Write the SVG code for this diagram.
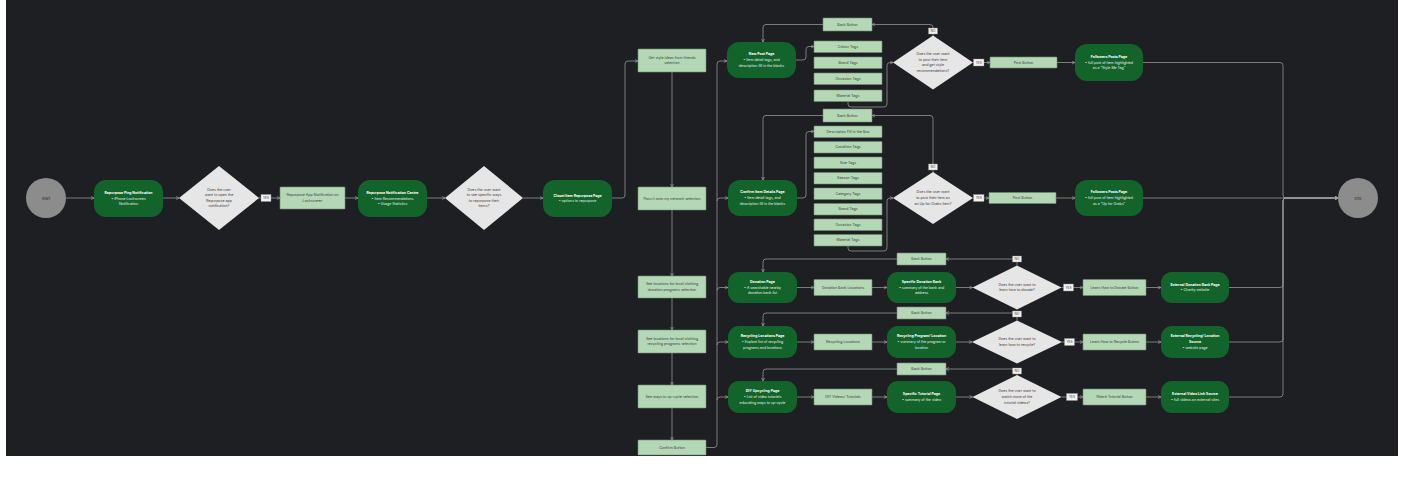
<svg xmlns="http://www.w3.org/2000/svg" width="1406" height="484" viewBox="0 0 1406 484">
<defs>
<style>
text{font-family:Inter,"Liberation Sans",sans-serif;text-anchor:middle;dominant-baseline:central}
.g rect{fill:#13642a}
.g text{fill:#eef5ee;font-size:3.5px}
.g text.t{font-weight:bold;fill:#fff}
.l rect{fill:#b4d8b6;stroke:#6f8f72;stroke-width:0.6}
.l text{fill:#34403a;font-size:3.6px}
.d polygon{fill:#e6e6e6}
.d text{fill:#3a3a3a;font-size:3.6px}
.c circle{fill:#8c8c8c}
.c text{fill:#2a2a2a;font-size:3.8px}
.lab rect{fill:#f2f2f2;stroke:#8a8a8a;stroke-width:0.4}
.lab text{fill:#333;font-size:3.2px}
.conn path{fill:none;stroke:#a3a3a3;stroke-width:0.7;marker-end:url(#a)}
</style>
<marker id="a" viewBox="0 0 6 6" refX="5.5" refY="3" markerWidth="4" markerHeight="4" orient="auto" markerUnits="userSpaceOnUse"><path d="M1,0.8 L5.5,3 L1,5.2" fill="none" stroke="#a3a3a3" stroke-width="1"/></marker>
</defs>
<rect width="1406" height="484" fill="#ffffff"/>
<rect x="6" y="0" width="1392" height="456" fill="#1e1f22"/>

<g class="conn">
<path d="M66,198 H94"/>
<path d="M163,198 H179"/>
<path d="M258,198 H280"/>
<path d="M345,198 H358"/>
<path d="M427,198 H445"/>
<path d="M523,198 H543"/>
<path d="M612,198 H622 Q625,198 625,195 V64 Q625,61 628,61 H638"/>
<path d="M672,72 V187"/>
<path d="M672,210 V276"/>
<path d="M672,298 V330"/>
<path d="M672,353 V385"/>
<path d="M672,408 V440"/>
<path d="M706,447.5 H714 Q717,447.5 717,444.5 V64 Q717,61 720,61 H727"/>
<path d="M717,201 Q717,198 720,198 H728"/>
<path d="M717,290.5 Q717,287.5 720,287.5 H728"/>
<path d="M717,345 Q717,342 720,342 H728"/>
<path d="M717,400 Q717,397 720,397 H728"/>
<path d="M796,60 H803 Q806,60 806,57 V49.5 Q806,46.5 809,46.5 H814"/>
<path d="M848,101.5 V104 Q848,107 851,107 H884 Q887,107 887,104 V65.5 Q887,62.5 890,62.5 H893"/>
<path d="M933,35.5 V27.5 Q933,24.5 930,24.5 H872"/>
<path d="M823,24.5 H766 Q763,24.5 763,27.5 V42"/>
<path d="M973,62.5 H990"/>
<path d="M1057,62.5 H1075"/>
<path d="M1143,62.5 H1280 Q1283,62.5 1283,65.5 V195 Q1283,198 1286,198 H1338"/>
<path d="M797,198 H803 Q806,198 806,195 V134.5 Q806,131.5 809,131.5 H814"/>
<path d="M848,246 V248 Q848,251 851,251 H884 Q887,251 887,248 V201 Q887,198 890,198 H893"/>
<path d="M933,172 V118.5 Q933,115.5 930,115.5 H872"/>
<path d="M823,115.5 H766 Q763,115.5 763,118.5 V180"/>
<path d="M973,198 H989"/>
<path d="M1056,198 H1075"/>
<path d="M1143,198 H1338"/>
<path d="M797,287.5 H814"/>
<path d="M872,287.5 H887"/>
<path d="M956,287.5 H972.5"/>
<path d="M1017,265.5 V259 H946"/>
<path d="M897,259 H766 Q763,259 763,262 V272"/>
<path d="M1061.5,287.5 H1083"/>
<path d="M1146,287.5 H1161"/>
<path d="M1229,287.5 H1280 Q1283,287.5 1283,284.5 V201 Q1283,198 1286,198 H1338"/>
<path d="M797,342 H814"/>
<path d="M872,342 H887"/>
<path d="M956,342 H972"/>
<path d="M1017,320.5 V313 H946"/>
<path d="M897,313 H766 Q763,313 763,316 V326"/>
<path d="M1062,342 H1083"/>
<path d="M1146,342 H1161"/>
<path d="M1229,342 H1280 Q1283,342 1283,339 V201 Q1283,198 1286,198 H1338"/>
<path d="M797,397 H814"/>
<path d="M872,397 H887"/>
<path d="M956,397 H972.5"/>
<path d="M1017,375 V369 H946"/>
<path d="M897,369 H766 Q763,369 763,372 V381"/>
<path d="M1061.5,397 H1083"/>
<path d="M1146,397 H1161"/>
<path d="M1229,397 H1280 Q1283,397 1283,394 V201 Q1283,198 1286,198 H1338"/>
</g>

<g id="start" class="c"><circle cx="46" cy="198" r="20"/><text x="46" y="198">Start</text></g>
<g id="end" class="c"><circle cx="1358" cy="198" r="20"/><text x="1358" y="198">End</text></g>

<g id="ping" class="g"><rect x="94" y="180" width="69" height="37" rx="12"/><text class="t" x="128.5" y="192.9">Repurpose Ping Notification</text><text x="128.5" y="198.5">• iPhone Lockscreen</text><text x="128.5" y="204.1">Notification</text></g>
<g id="d1" class="d"><polygon points="219,166 259,198 219,230 179,198"/><text x="219" y="189.6">Does the user</text><text x="219" y="195.2">want to open the</text><text x="219" y="200.8">Repurpose app</text><text x="219" y="206.4">notification?</text></g>
<g id="lock" class="l"><rect x="280" y="187" width="65" height="22" rx="0.5"/><text x="312.5" y="195.2">Repurpose App Notification on</text><text x="312.5" y="200.8">Lockscreen</text></g>
<g id="centre" class="g"><rect x="358" y="180" width="69" height="37" rx="12"/><text class="t" x="392.5" y="192.9">Repurpose Notification Centre</text><text x="392.5" y="198.5">• Item Recommendations</text><text x="392.5" y="204.1">• Usage Statistics</text></g>
<g id="d2" class="d"><polygon points="484,166 523,198 484,230 445,198"/><text x="484" y="189.6">Does the user want</text><text x="484" y="195.2">to see specific ways</text><text x="484" y="200.8">to repurpose their</text><text x="484" y="206.4">items?</text></g>
<g id="closet" class="g"><rect x="543" y="180" width="69" height="37" rx="12"/><text class="t" x="577.5" y="195.7">Closet Item Repurpose Page</text><text x="577.5" y="201.3">• options to repurpose</text></g>

<g id="getstyle" class="l"><rect x="638" y="49" width="68" height="23" rx="0.5"/><text x="672" y="57.7">Get style ideas from friends</text><text x="672" y="63.3">selection</text></g>
<g id="pass" class="l"><rect x="638" y="187" width="68" height="23" rx="0.5"/><text x="672" y="198.5">Pass it onto my network selection</text></g>
<g id="seedon" class="l"><rect x="638" y="276" width="68" height="22" rx="0.5"/><text x="672" y="284.2">See locations for local clothing</text><text x="672" y="289.8">donation programs selection</text></g>
<g id="seerec" class="l"><rect x="638" y="330" width="68" height="23" rx="0.5"/><text x="672" y="338.7">See locations for local clothing</text><text x="672" y="344.3">recycling programs selection</text></g>
<g id="seeup" class="l"><rect x="638" y="385" width="68" height="23" rx="0.5"/><text x="672" y="396.5">See ways to up-cycle selection</text></g>
<g id="confirm" class="l"><rect x="638" y="440" width="68" height="15" rx="0.5"/><text x="672" y="447.5">Confirm Button</text></g>

<g id="newpost" class="g"><rect x="727" y="42" width="69" height="36" rx="12"/><text class="t" x="761.5" y="54.4">New Post Page</text><text x="761.5" y="60">• Item detail tags, and</text><text x="761.5" y="65.6">description fill in the blanks</text></g>
<g id="confirmitem" class="g"><rect x="728" y="180" width="69" height="36" rx="12"/><text class="t" x="762.5" y="192.4">Confirm Item Details Page</text><text x="762.5" y="198">• Item detail tags, and</text><text x="762.5" y="203.6">description fill in the blanks</text></g>
<g id="donation" class="g"><rect x="728" y="272" width="69" height="31" rx="11"/><text class="t" x="762.5" y="281.9">Donation Page</text><text x="762.5" y="287.5">• A searchable nearby</text><text x="762.5" y="293.1">donation bank list</text></g>
<g id="recyc" class="g"><rect x="728" y="326" width="69" height="32" rx="11"/><text class="t" x="762.5" y="336.4">Recycling Locations Page</text><text x="762.5" y="342">• Explore list of recycling</text><text x="762.5" y="347.6">programs and locations</text></g>
<g id="diy" class="g"><rect x="728" y="381" width="69" height="32" rx="11"/><text class="t" x="762.5" y="391.4">DIY Upcycling Page</text><text x="762.5" y="397">• List of video tutorials</text><text x="762.5" y="402.6">educating ways to up-cycle</text></g>

<g id="back1" class="l"><rect x="823" y="18" width="49" height="13" rx="0.5"/><text x="847.5" y="24.5">Back Button</text></g>
<g id="colour" class="l"><rect x="814" y="41" width="68" height="11.5" rx="0.5"/><text x="848" y="46.75">Colour Tags</text></g>
<g id="brand1" class="l"><rect x="814" y="57" width="68" height="11.5" rx="0.5"/><text x="848" y="62.75">Brand Tags</text></g>
<g id="occ1" class="l"><rect x="814" y="73" width="68" height="11.5" rx="0.5"/><text x="848" y="78.75">Occasion Tags</text></g>
<g id="mat1" class="l"><rect x="814" y="90" width="68" height="11.5" rx="0.5"/><text x="848" y="95.75">Material Tags</text></g>

<g id="back2" class="l"><rect x="823" y="109" width="49" height="13" rx="0.5"/><text x="847.5" y="115.5">Back Button</text></g>
<g id="desc" class="l"><rect x="814" y="126" width="68" height="11.5" rx="0.5"/><text x="848" y="131.75">Description Fill in the Box</text></g>
<g id="cond" class="l"><rect x="814" y="141.5" width="68" height="11.5" rx="0.5"/><text x="848" y="147.25">Condition Tags</text></g>
<g id="size" class="l"><rect x="814" y="157" width="68" height="11.5" rx="0.5"/><text x="848" y="162.75">Size Tags</text></g>
<g id="season" class="l"><rect x="814" y="172.5" width="68" height="11.5" rx="0.5"/><text x="848" y="178.25">Season Tags</text></g>
<g id="cat" class="l"><rect x="814" y="188" width="68" height="11.5" rx="0.5"/><text x="848" y="193.75">Category Tags</text></g>
<g id="brand2" class="l"><rect x="814" y="203.5" width="68" height="11.5" rx="0.5"/><text x="848" y="209.25">Brand Tags</text></g>
<g id="occ2" class="l"><rect x="814" y="219" width="68" height="11.5" rx="0.5"/><text x="848" y="224.75">Occasion Tags</text></g>
<g id="mat2" class="l"><rect x="814" y="234.5" width="68" height="11.5" rx="0.5"/><text x="848" y="240.25">Material Tags</text></g>

<g id="d3" class="d"><polygon points="933,35.5 973,62.5 933,89.5 893,62.5"/><text x="933" y="54.1">Does the user want</text><text x="933" y="59.7">to post their item</text><text x="933" y="65.3">and get style</text><text x="933" y="70.9">recommendations?</text></g>
<g id="d4" class="d"><polygon points="933,172 973,198 933,224 893,198"/><text x="933" y="192.4">Does the user want</text><text x="933" y="198">to post their item as</text><text x="933" y="203.6">an Up for Grabs item?</text></g>
<g id="post1" class="l"><rect x="990" y="57" width="67" height="11" rx="0.5"/><text x="1023.5" y="62.5">Post Button</text></g>
<g id="post2" class="l"><rect x="989" y="192.5" width="67" height="11" rx="0.5"/><text x="1022.5" y="198">Post Button</text></g>
<g id="fol1" class="g"><rect x="1075" y="44" width="68" height="37" rx="12"/><text class="t" x="1109" y="56.9">Followers Posts Page</text><text x="1109" y="62.5">• full post of item highlighted</text><text x="1109" y="68.1">as a "Style Me Tag"</text></g>
<g id="fol2" class="g"><rect x="1075" y="180" width="68" height="36" rx="12"/><text class="t" x="1109" y="192.4">Followers Posts Page</text><text x="1109" y="198">• full post of item highlighted</text><text x="1109" y="203.6">as a "Up for Grabs"</text></g>

<g id="donbank" class="l"><rect x="814" y="279.5" width="58" height="16" rx="0.5"/><text x="843" y="287.5">Donation Bank Locations</text></g>
<g id="specdon" class="g"><rect x="887" y="272" width="69" height="31" rx="11"/><text class="t" x="921.5" y="281.9">Specific Donation Bank</text><text x="921.5" y="287.5">• summary of the bank and</text><text x="921.5" y="293.1">address</text></g>
<g id="back3" class="l"><rect x="897" y="253" width="49" height="12" rx="0.5"/><text x="921.5" y="259">Back Button</text></g>
<g id="d5" class="d"><polygon points="1017,265.5 1061.5,287.5 1017,309.5 972.5,287.5"/><text x="1017" y="284.7">Does the user want to</text><text x="1017" y="290.3">learn how to donate?</text></g>
<g id="learnd" class="l"><rect x="1083" y="279.5" width="63" height="16" rx="0.5"/><text x="1114.5" y="287.5">Learn How to Donate Button</text></g>
<g id="extdon" class="g"><rect x="1161" y="272" width="68" height="31" rx="11"/><text class="t" x="1195" y="284.7">External Donation Bank Page</text><text x="1195" y="290.3">• Charity website</text></g>

<g id="recloc" class="l"><rect x="814" y="334" width="58" height="16" rx="0.5"/><text x="843" y="342">Recycling Locations</text></g>
<g id="specrec" class="g"><rect x="887" y="326" width="69" height="32" rx="11"/><text class="t" x="921.5" y="336.4">Recycling Program/ Location</text><text x="921.5" y="342">• summary of the program or</text><text x="921.5" y="347.6">location</text></g>
<g id="back4" class="l"><rect x="897" y="307" width="49" height="12" rx="0.5"/><text x="921.5" y="313">Back Button</text></g>
<g id="d6" class="d"><polygon points="1017,320.5 1062,342 1017,363.5 972,342"/><text x="1017" y="339.2">Does the user want to</text><text x="1017" y="344.8">learn how to recycle?</text></g>
<g id="learnr" class="l"><rect x="1083" y="334" width="63" height="16" rx="0.5"/><text x="1114.5" y="342">Learn How to Recycle Button</text></g>
<g id="extrec" class="g"><rect x="1161" y="326" width="68" height="32" rx="11"/><text class="t" x="1195" y="336.4">External Recycling/ Location</text><text class="t" x="1195" y="342">Source</text><text x="1195" y="347.6">• website page</text></g>

<g id="diyvid" class="l"><rect x="814" y="389" width="58" height="16" rx="0.5"/><text x="843" y="397">DIY Videos/ Tutorials</text></g>
<g id="spectut" class="g"><rect x="887" y="381" width="69" height="32" rx="11"/><text class="t" x="921.5" y="394.2">Specific Tutorial Page</text><text x="921.5" y="399.8">• summary of the video</text></g>
<g id="back5" class="l"><rect x="897" y="363" width="49" height="12" rx="0.5"/><text x="921.5" y="369">Back Button</text></g>
<g id="d7" class="d"><polygon points="1017,375 1061.5,397 1017,419 972.5,397"/><text x="1017" y="391.4">Does the user want to</text><text x="1017" y="397">watch more of the</text><text x="1017" y="402.6">tutorial videos?</text></g>
<g id="watch" class="l"><rect x="1083" y="389" width="63" height="16" rx="0.5"/><text x="1114.5" y="397">Watch Tutorial Button</text></g>
<g id="extvid" class="g"><rect x="1161" y="381" width="68" height="32" rx="11"/><text class="t" x="1195" y="394.2">External Video Link Source</text><text x="1195" y="399.8">• full videos on external sites</text></g>

<g id="labels" class="lab">
<rect x="261" y="194.5" width="10" height="7"/><text x="266" y="198">YES</text>
<rect x="928.5" y="28" width="9" height="6"/><text x="933" y="31">NO</text>
<rect x="973.5" y="59" width="10.5" height="7"/><text x="978.75" y="62.5">YES</text>
<rect x="928.5" y="164" width="9" height="6"/><text x="933" y="167">NO</text>
<rect x="973.5" y="194.5" width="10.5" height="7"/><text x="978.75" y="198">YES</text>
<rect x="1012.5" y="256" width="9" height="6"/><text x="1017" y="259">NO</text>
<rect x="1063.5" y="284" width="10" height="7"/><text x="1068.5" y="287.5">YES</text>
<rect x="1012.5" y="311" width="9" height="6"/><text x="1017" y="314">NO</text>
<rect x="1064.5" y="338.5" width="10" height="7"/><text x="1069.5" y="342">YES</text>
<rect x="1012.5" y="368" width="9" height="6"/><text x="1017" y="371">NO</text>
<rect x="1066.5" y="393.5" width="11" height="7"/><text x="1072" y="397">YES</text>
</g>
</svg>
